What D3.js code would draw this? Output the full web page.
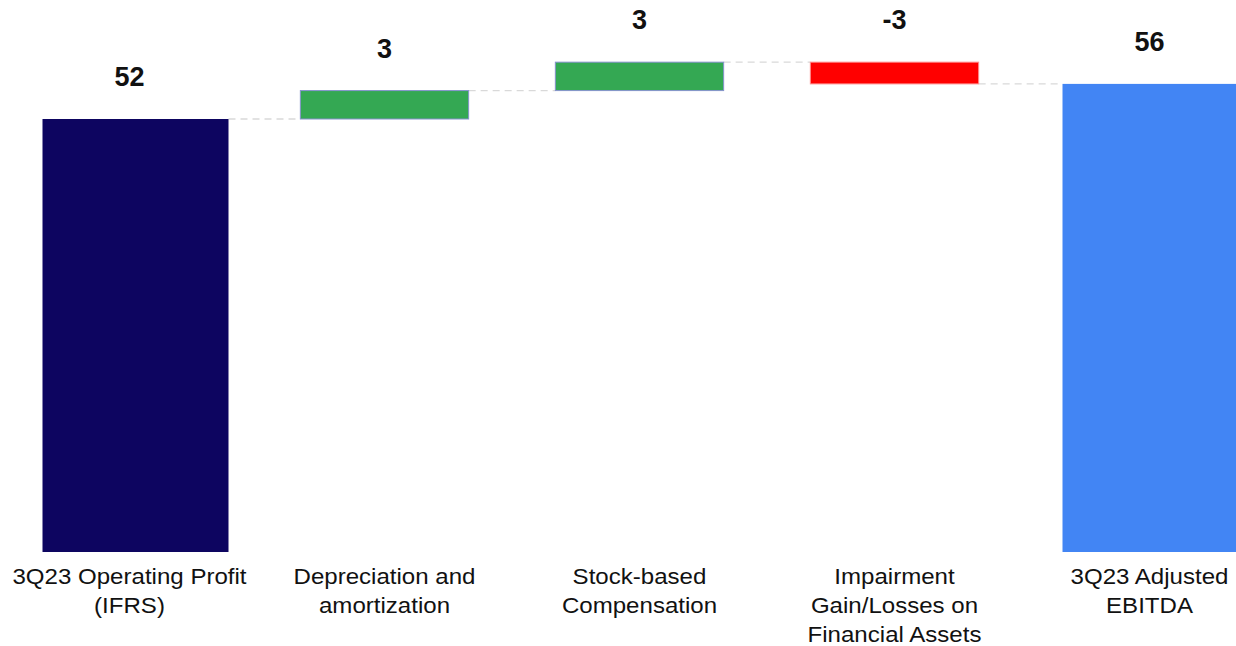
<!DOCTYPE html>
<html>
<head>
<meta charset="utf-8">
<script src="https://cdn.jsdelivr.net/npm/d3@7"></script>
<style>
  html, body { margin: 0; padding: 0; background: #ffffff; }
  svg { display: block; }
</style>
</head>
<body>
<svg id="chart" width="1236" height="646"></svg>
<script>
// Bridge from operating profit to adjusted EBITDA (USD m)
const categories = [
  "3Q23 Operating Profit\n(IFRS)",
  "Depreciation and\namortization",
  "Stock-based\nCompensation",
  "Impairment\nGain/Losses on\nFinancial Assets",
  "3Q23 Adjusted\nEBITDA"
];
const values = [51.8, 3.4, 3.4, -2.6, 56.0];
const kinds = ["total", "delta", "delta", "delta", "total"];

const colors = {
  startTotal: "#0d0560",
  endTotal: "#4285f4",
  up: "#34a853",
  down: "#ff0000",
  upStroke: "#8592cc",
  downStroke: "#ff8c8c",
  connector: "#d9d9d9"
};

const svg = d3.select("#chart");
const baseY = 552;

const y = d3.scaleLinear().domain([0, 60]).range([baseY, baseY - 60 * 8.359]);
const x = d3.scaleBand()
  .domain(d3.range(categories.length))
  .range([2, 1277])
  .paddingInner(0.34)
  .paddingOuter(0.17);

// Build the running totals for each step
let running = 0;
const steps = values.map((v, i) => {
  let lo, hi;
  if (kinds[i] === "total") {
    lo = 0; hi = v; running = v;
  } else {
    const start = running;
    running += v;
    lo = Math.min(start, running);
    hi = Math.max(start, running);
  }
  return { i, v, kind: kinds[i], lo, hi, end: running };
});

const totalWidth = 186;
const totalShift = 6;
function barX(d) {
  const c = x(d.i) + x.bandwidth() / 2;
  return d.kind === "total" ? c + totalShift - totalWidth / 2 : x(d.i);
}
function barW(d) {
  return d.kind === "total" ? totalWidth : x.bandwidth();
}
function fill(d) {
  if (d.kind === "total") return d.i === 0 ? colors.startTotal : colors.endTotal;
  return d.v >= 0 ? colors.up : colors.down;
}
function stroke(d) {
  if (d.kind === "total") return "none";
  return d.v >= 0 ? colors.upStroke : colors.downStroke;
}

// Dashed connectors between consecutive bars at the running level
const links = steps.slice(0, -1).map((d, k) => ({
  x1: barX(d) + barW(d),
  x2: barX(steps[k + 1]),
  level: d.end
}));
svg.append("g")
  .selectAll("line")
  .data(links)
  .join("line")
  .attr("x1", d => d.x1)
  .attr("x2", d => d.x2)
  .attr("y1", d => y(d.level))
  .attr("y2", d => y(d.level))
  .attr("stroke", colors.connector)
  .attr("stroke-width", 1.3)
  .attr("stroke-dasharray", "7,5");

// Bars
svg.append("g")
  .selectAll("rect")
  .data(steps)
  .join("rect")
  .attr("x", barX)
  .attr("width", barW)
  .attr("y", d => y(d.hi))
  .attr("height", d => y(d.lo) - y(d.hi))
  .attr("fill", fill)
  .attr("stroke", stroke)
  .attr("stroke-width", 1);

// Value labels above each bar
svg.append("g")
  .selectAll("text")
  .data(steps)
  .join("text")
  .attr("x", d => x(d.i) + x.bandwidth() / 2)
  .attr("y", d => y(d.hi) - 33)
  .attr("text-anchor", "middle")
  .attr("font-family", "'Liberation Sans', Arial, sans-serif")
  .attr("font-weight", "bold")
  .attr("font-size", 27)
  .attr("fill", "#111111")
  .text(d => String(Math.round(d.v)));

// Category labels (slightly widened lettering)
const cat = svg.append("g")
  .selectAll("text")
  .data(categories)
  .join("text")
  .attr("transform", (d, i) => `translate(${x(i) + x.bandwidth() / 2},584) scale(1.12,1)`)
  .attr("text-anchor", "middle")
  .attr("font-family", "'Liberation Sans', Arial, sans-serif")
  .attr("font-size", 21.5)
  .attr("fill", "#111111");
cat.selectAll("tspan")
  .data(d => d.split("\n"))
  .join("tspan")
  .attr("x", 0)
  .attr("dy", (d, j) => j === 0 ? 0 : 29)
  .text(d => d);
</script>
</body>
</html>
